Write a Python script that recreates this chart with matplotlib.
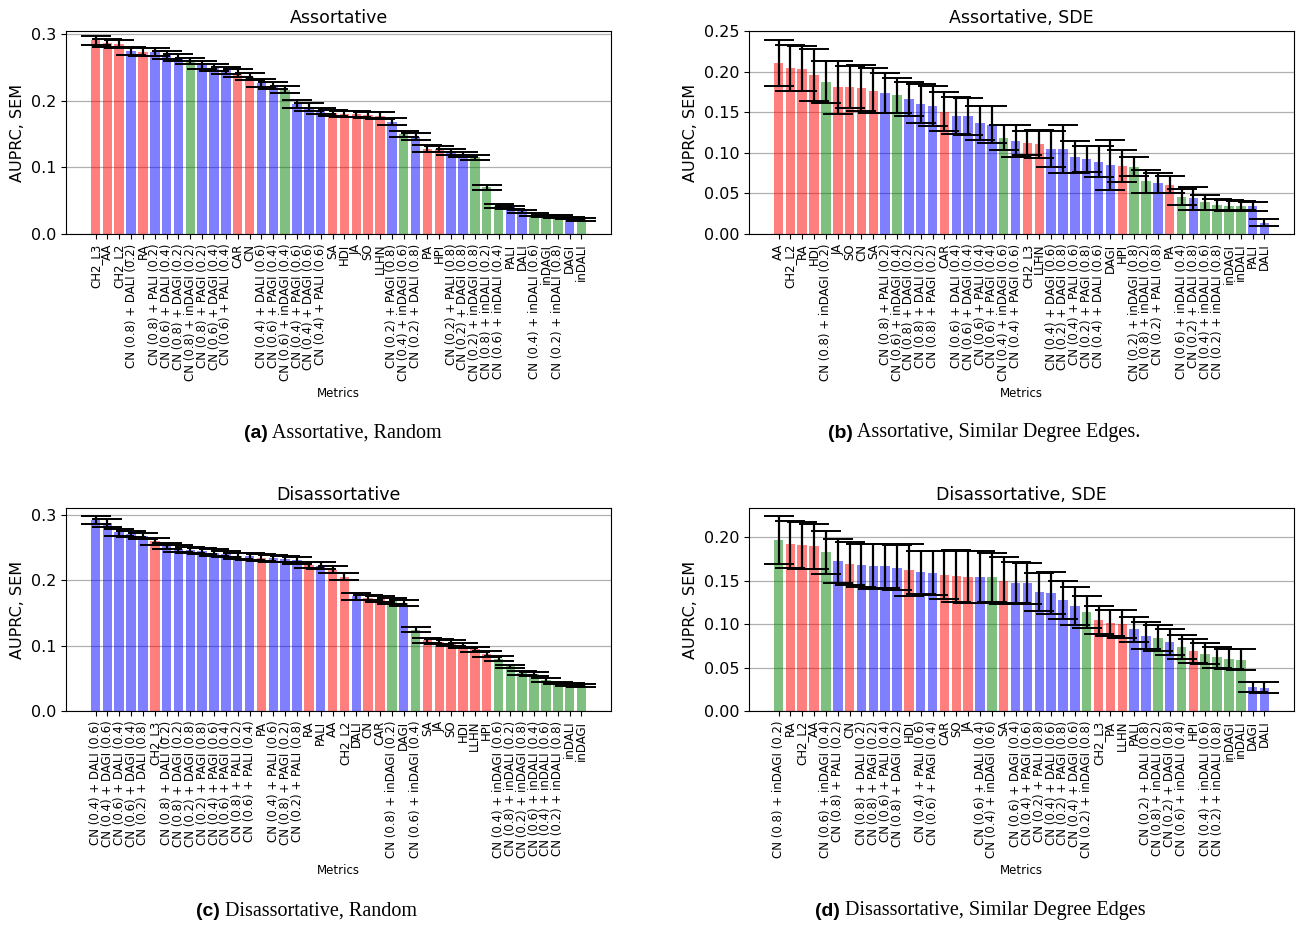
import matplotlib
matplotlib.use("Agg")
import matplotlib.pyplot as plt

plt.rcParams["font.family"] = ["DejaVu Sans"]

# ---- panel (a): Assortative, Random ----
labels_a = ["CH2_L3", "AA", "CH2_L2", "CN (0.8) + DALI (0.2)", "RA", "CN (0.8) + PALI (0.2)",
            "CN (0.6) + DALI (0.4)", "CN (0.8) + DAGI (0.2)", "CN (0.8) + inDAGI (0.2)",
            "CN (0.8) + PAGI (0.2)", "CN (0.6) + DAGI (0.4)", "CN (0.6) + PALI (0.4)", "CAR", "CN",
            "CN (0.4) + DALI (0.6)", "CN (0.6) + PAGI (0.4)", "CN (0.6) + inDAGI (0.4)",
            "CN (0.4) + PAGI (0.6)", "CN (0.4) + DAGI (0.6)", "CN (0.4) + PALI (0.6)", "SA", "HDI",
            "JA", "SO", "LLHN", "CN (0.2) + PAGI (0.8)", "CN (0.4) + inDAGI (0.6)",
            "CN (0.2) + DALI (0.8)", "PA", "HPI", "CN (0.2) + PALI (0.8)", "CN (0.2) + DAGI (0.8)",
            "CN (0.2) + inDAGI (0.8)", "CN (0.8) + inDALI (0.2)", "CN (0.6) + inDALI (0.4)", "PALI",
            "DALI", "CN (0.4) + inDALI (0.6)", "inDAGI", "CN (0.2) + inDALI (0.8)", "DAGI", "inDALI"]
auprc_a = [0.291, 0.287, 0.286, 0.275, 0.274, 0.273, 0.269, 0.265, 0.260, 0.254, 0.250, 0.246,
           0.242, 0.236, 0.227, 0.223, 0.217, 0.195, 0.191, 0.185, 0.182, 0.180, 0.180, 0.179,
           0.178, 0.169, 0.150, 0.146, 0.128, 0.127, 0.123, 0.119, 0.115, 0.070, 0.042, 0.040,
           0.034, 0.029, 0.027, 0.026, 0.024, 0.022]
sem_a = [0.0064, 0.0062, 0.0062, 0.0066, 0.0060, 0.0060, 0.0058, 0.0056, 0.0050, 0.0055, 0.0055,
         0.0052, 0.0055, 0.0052, 0.0055, 0.0050, 0.0050, 0.0064, 0.0055, 0.0050, 0.0046, 0.0046,
         0.0046, 0.0046, 0.0046, 0.0056, 0.0046, 0.0050, 0.0050, 0.0045, 0.0042, 0.0040, 0.0040,
         0.0033, 0.0026, 0.0024, 0.0022, 0.0022, 0.0020, 0.0020, 0.0020, 0.0018]

# ---- panel (b): Assortative, SDE ----
labels_b = ["AA", "CH2_L2", "RA", "HDI", "CN (0.8) + inDAGI (0.2)", "JA", "SO", "CN", "SA",
            "CN (0.8) + PALI (0.2)", "CN (0.6) + inDAGI (0.4)", "CN (0.8) + DAGI (0.2)",
            "CN (0.8) + DALI (0.2)", "CN (0.8) + PAGI (0.2)", "CAR", "CN (0.6) + DALI (0.4)",
            "CN (0.6) + DAGI (0.4)", "CN (0.6) + PALI (0.4)", "CN (0.6) + PAGI (0.4)",
            "CN (0.4) + inDAGI (0.6)", "CN (0.4) + PAGI (0.6)", "CH2_L3", "LLHN",
            "CN (0.4) + DAGI (0.6)", "CN (0.2) + DAGI (0.8)", "CN (0.4) + PALI (0.6)",
            "CN (0.2) + PAGI (0.8)", "CN (0.4) + DALI (0.6)", "DAGI", "HPI", "CN (0.2) + inDAGI (0.8)",
            "CN (0.8) + inDALI (0.2)", "CN (0.2) + PALI (0.8)", "PA", "CN (0.6) + inDALI (0.4)",
            "CN (0.2) + DALI (0.8)", "CN (0.4) + inDALI (0.6)", "CN (0.2) + inDALI (0.8)", "inDAGI",
            "inDALI", "PALI", "DALI"]
auprc_b = [0.211, 0.205, 0.204, 0.196, 0.188, 0.181, 0.181, 0.180, 0.177, 0.174, 0.171, 0.167,
           0.161, 0.158, 0.151, 0.146, 0.145, 0.137, 0.135, 0.119, 0.115, 0.112, 0.111, 0.105,
           0.105, 0.095, 0.092, 0.089, 0.085, 0.084, 0.083, 0.065, 0.063, 0.061, 0.046, 0.044,
           0.039, 0.036, 0.035, 0.035, 0.034, 0.014]
sem_b = [0.028, 0.028, 0.028, 0.032, 0.026, 0.033, 0.026, 0.028, 0.028, 0.025, 0.022, 0.021,
         0.024, 0.025, 0.024, 0.023, 0.023, 0.021, 0.023, 0.015, 0.020, 0.015, 0.017, 0.022,
         0.030, 0.020, 0.016, 0.019, 0.031, 0.020, 0.012, 0.014, 0.012, 0.010, 0.010, 0.014,
         0.009, 0.007, 0.007, 0.006, 0.006, 0.004]

# ---- panel (c): Disassortative, Random ----
labels_c = ["CN (0.4) + DALI (0.6)", "CN (0.4) + DAGI (0.6)", "CN (0.6) + DALI (0.4)",
            "CN (0.6) + DAGI (0.4)", "CN (0.2) + DALI (0.8)", "CH2_L3", "CN (0.8) + DALI (0.2)",
            "CN (0.8) + DAGI (0.2)", "CN (0.2) + DAGI (0.8)", "CN (0.2) + PAGI (0.8)",
            "CN (0.4) + PAGI (0.6)", "CN (0.6) + PAGI (0.4)", "CN (0.8) + PALI (0.2)",
            "CN (0.6) + PALI (0.4)", "PA", "CN (0.4) + PALI (0.6)", "CN (0.8) + PAGI (0.2)",
            "CN (0.2) + PALI (0.8)", "RA", "PALI", "AA", "CH2_L2", "DALI", "CN", "CAR",
            "CN (0.8) + inDAGI (0.2)", "DAGI", "CN (0.6) + inDAGI (0.4)", "SA", "JA", "SO", "HDI",
            "LLHN", "HPI", "CN (0.4) + inDAGI (0.6)", "CN (0.8) + inDALI (0.2)",
            "CN (0.2) + inDAGI (0.8)", "CN (0.6) + inDALI (0.4)", "CN (0.4) + inDALI (0.6)",
            "CN (0.2) + inDALI (0.8)", "inDALI", "inDAGI"]
auprc_c = [0.292, 0.287, 0.273, 0.270, 0.267, 0.259, 0.252, 0.248, 0.246, 0.244, 0.242, 0.240,
           0.237, 0.236, 0.234, 0.233, 0.232, 0.230, 0.223, 0.222, 0.216, 0.205, 0.175, 0.173,
           0.171, 0.168, 0.165, 0.124, 0.108, 0.106, 0.104, 0.100, 0.094, 0.087, 0.080, 0.068,
           0.058, 0.056, 0.048, 0.043, 0.040, 0.039]
sem_c = [0.006, 0.006, 0.005, 0.005, 0.005, 0.005, 0.005, 0.005, 0.005, 0.005, 0.005, 0.005,
         0.005, 0.005, 0.005, 0.005, 0.005, 0.005, 0.005, 0.005, 0.005, 0.005, 0.005, 0.004,
         0.004, 0.004, 0.005, 0.004, 0.004, 0.004, 0.004, 0.004, 0.004, 0.004, 0.004, 0.003,
         0.003, 0.003, 0.003, 0.002, 0.002, 0.002]

# ---- panel (d): Disassortative, SDE ----
labels_d = ["CN (0.8) + inDAGI (0.2)", "RA", "CH2_L2", "AA", "CN (0.6) + inDAGI (0.4)",
            "CN (0.8) + PALI (0.2)", "CN", "CN (0.8) + DALI (0.2)", "CN (0.8) + PAGI (0.2)",
            "CN (0.6) + PALI (0.4)", "CN (0.8) + DAGI (0.2)", "HDI", "CN (0.4) + PALI (0.6)",
            "CN (0.6) + PAGI (0.4)", "CAR", "SO", "JA", "CN (0.6) + DALI (0.4)",
            "CN (0.4) + inDAGI (0.6)", "SA", "CN (0.6) + DAGI (0.4)", "CN (0.4) + PAGI (0.6)",
            "CN (0.2) + PALI (0.8)", "CN (0.4) + DALI (0.6)", "CN (0.2) + PAGI (0.8)",
            "CN (0.4) + DAGI (0.6)", "CN (0.2) + inDAGI (0.8)", "CH2_L3", "PA", "LLHN", "PALI",
            "CN (0.2) + DALI (0.8)", "CN (0.8) + inDALI (0.2)", "CN (0.2) + DAGI (0.8)",
            "CN (0.6) + inDALI (0.4)", "HPI", "CN (0.4) + inDALI (0.6)", "CN (0.2) + inDALI (0.8)",
            "inDAGI", "inDALI", "DAGI", "DALI"]
auprc_d = [0.197, 0.192, 0.191, 0.190, 0.183, 0.173, 0.170, 0.168, 0.167, 0.167, 0.165, 0.162,
           0.160, 0.159, 0.157, 0.156, 0.155, 0.154, 0.154, 0.150, 0.148, 0.147, 0.137, 0.136,
           0.128, 0.121, 0.114, 0.105, 0.102, 0.100, 0.094, 0.087, 0.084, 0.079, 0.074, 0.069,
           0.066, 0.062, 0.060, 0.059, 0.028, 0.027]
sem_d = [0.028, 0.027, 0.027, 0.026, 0.025, 0.025, 0.025, 0.025, 0.026, 0.025, 0.026, 0.030,
         0.025, 0.025, 0.028, 0.030, 0.030, 0.030, 0.028, 0.027, 0.024, 0.024, 0.022, 0.024,
         0.022, 0.022, 0.018, 0.016, 0.015, 0.016, 0.014, 0.016, 0.015, 0.015, 0.014, 0.014,
         0.012, 0.012, 0.012, 0.012, 0.006, 0.006]

base_metrics = ["CN", "AA", "RA", "JA", "SO", "HDI", "HPI", "LLHN", "SA", "PA", "CAR",
                "CH2_L2", "CH2_L3"]


def bar_color(lbl):
    if lbl in base_metrics:
        return "red"
    if "inD" in lbl:
        return "green"
    return "blue"


def draw_panel(rect, labels, vals, errs, title, yticks, ylim):
    ax = fig.add_axes(rect)
    x = list(range(len(labels)))
    ax.bar(x, vals, color=[bar_color(l) for l in labels], alpha=0.5, width=0.8)
    ax.errorbar(x, vals, yerr=errs, fmt="none", ecolor="black", elinewidth=1.6,
                capsize=10.5, capthick=1.4)
    ax.set_xticks(x)
    ax.set_xticklabels(labels, rotation=90, fontsize=8.5)
    ax.set_yticks(yticks)
    ax.tick_params(axis="y", labelsize=11.5)
    ax.set_ylim(*ylim)
    ax.set_xlim(-0.4 - 2.09, len(labels) - 1 + 0.4 + 2.09)
    ax.yaxis.grid(True, color="#b0b0b0", linewidth=0.9)
    ax.set_axisbelow(True)
    ax.set_title(title, fontsize=12.5)
    ax.set_ylabel("AUPRC, SEM", fontsize=11.5)
    ax.set_xlabel("Metrics", fontsize=8.5)
    return ax


W, H = 1306, 925
fig = plt.figure(figsize=(W / 100, H / 100), dpi=100)


def rect_px(left, top, right, bottom):
    return [left / W, 1 - bottom / H, (right - left) / W, (bottom - top) / H]


draw_panel(rect_px(66, 31, 611, 234), labels_a, auprc_a, sem_a, "Assortative",
           [0.0, 0.1, 0.2, 0.3], (0, 0.305))
draw_panel(rect_px(749, 31, 1294, 234), labels_b, auprc_b, sem_b, "Assortative, SDE",
           [0.00, 0.05, 0.10, 0.15, 0.20, 0.25], (0, 0.2505))
draw_panel(rect_px(66, 508, 611, 711), labels_c, auprc_c, sem_c, "Disassortative",
           [0.0, 0.1, 0.2, 0.3], (0, 0.31))
draw_panel(rect_px(749, 508, 1294, 711), labels_d, auprc_d, sem_d, "Disassortative, SDE",
           [0.00, 0.05, 0.10, 0.15, 0.20], (0, 0.234))

# subfigure captions
captions = [
    (268, 433, "(a)", " Assortative, Random"),
    (853, 433, "(b)", " Assortative, Similar Degree Edges."),
    (220, 911, "(c)", " Disassortative, Random"),
    (840, 911, "(d)", " Disassortative, Similar Degree Edges"),
]
for xp, yp, tag, txt in captions:
    fig.text(xp / W, 1 - yp / H, tag, ha="right", va="center", fontsize=14,
             fontweight="bold", family="Liberation Sans")
    fig.text(xp / W, 1 - yp / H, txt, ha="left", va="center", fontsize=14.5,
             family="Liberation Serif")

fig.savefig("out.png", dpi=100)
